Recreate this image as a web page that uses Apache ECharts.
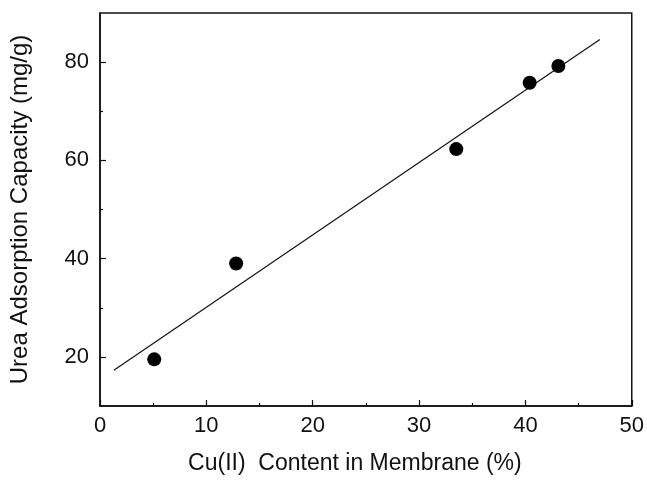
<!DOCTYPE html>
<html>
<head>
<meta charset="utf-8">
<script src="https://cdn.jsdelivr.net/npm/echarts@6/dist/echarts.min.js"></script>
<style>
	html, body { margin: 0; padding: 0; background: #fff; }
	#main { width: 647px; height: 480px; }
</style>
</head>
<body>
<div id="main"></div>
<script>
	// measured points
	var cuContent = [5.1, 12.8, 33.5, 40.4, 43.1];
	var ureaCapacity = [19.5, 39.0, 62.3, 75.8, 79.2];
	// linear fit, end points
	var fitX = [1.3, 47.0];
	var fitY = [17.3, 84.6];
	var yLabels = [20, 40, 60, 80];
	var yMinor = [30, 50, 70];

	var font = 'Liberation Sans, Arial, sans-serif';
	var ink = '#111';

	var zip = function(a, b){ return a.map(function(v, i){ return [v, b[i]]; }); };

	var chart = echarts.init(document.getElementById('main'));
	var option = {
		backgroundColor: '#fff',
		animation: false,
		grid: {
			left: 100, right: 15, top: 13, bottom: 73,
			show: true, borderColor: ink, borderWidth: 1.5
		},
		xAxis: {
			type: 'value',
			min: 0, max: 50, interval: 10,
			name: 'Cu(II)  Content in Membrane (%)',
			nameLocation: 'middle',
			nameGap: 46,
			nameTextStyle: { fontFamily: font, fontSize: 23, color: ink, padding: [0, 22, 0, 0] },
			axisLine: { lineStyle: { color: ink, width: 1.5 } },
			axisTick: { inside: true, length: 6, lineStyle: { color: ink, width: 1.2 } },
			minorTick: { show: true, splitNumber: 2, length: 3, lineStyle: { color: ink, width: 1.2 } },
			axisLabel: { fontFamily: font, fontSize: 22, color: ink, margin: 9 },
			splitLine: { show: false }
		},
		yAxis: [{
			type: 'value',
			min: 10, max: 90, interval: 10,
			name: 'Urea Adsorption Capacity (mg/g)',
			nameLocation: 'middle',
			nameGap: 68,
			nameTextStyle: { fontFamily: font, fontSize: 24, color: ink },
			axisLine: { lineStyle: { color: ink, width: 1.5 } },
			axisTick: { inside: true, length: 6, customValues: yLabels, lineStyle: { color: ink, width: 1.2 } },
			axisLabel: { fontFamily: font, fontSize: 22, color: ink, margin: 11, customValues: yLabels },
			splitLine: { show: false }
		}, {
			// second axis only for the short ticks between labels
			type: 'value',
			position: 'left',
			min: 10, max: 90, interval: 10,
			axisLine: { show: false },
			axisTick: { inside: true, length: 3, customValues: yMinor, lineStyle: { color: ink, width: 1.2 } },
			axisLabel: { show: false },
			splitLine: { show: false }
		}],
		series: [{
			name: 'fit',
			type: 'line',
			data: zip(fitX, fitY),
			symbol: 'none',
			lineStyle: { color: ink, width: 1.2 },
			z: 2
		}, {
			name: 'data',
			type: 'scatter',
			data: zip(cuContent, ureaCapacity),
			symbol: 'circle',
			symbolSize: 14,
			itemStyle: { color: '#000', opacity: 1 },
			z: 3
		}]
	};
	chart.setOption(option, true);
</script>
</body>
</html>
